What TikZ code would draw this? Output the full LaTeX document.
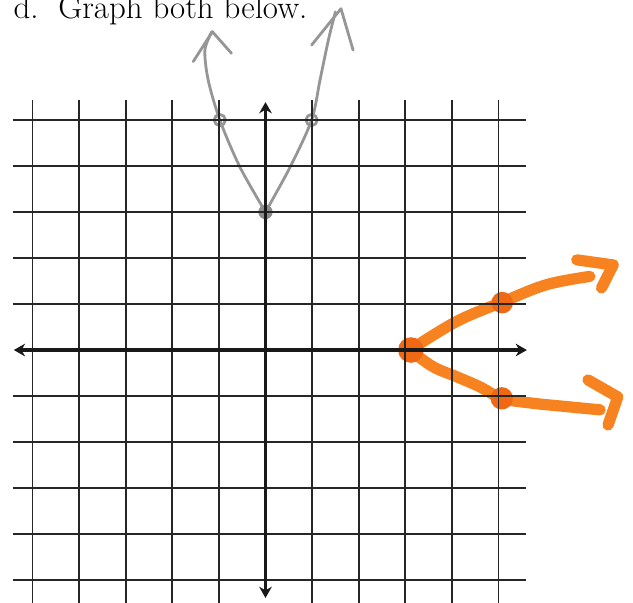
\documentclass[tikz,border=0pt]{standalone}
\usepackage{fontspec}
\usetikzlibrary{arrows.meta}

\begin{document}
\begin{tikzpicture}[
    x = 1.165cm,
    y = 1.15cm,
    gridline/.style = {
        line width=1.3pt,
        color=black!85
    },
    axisline/.style = {
        {Stealth[length=8pt,width=9pt]}-{Stealth[length=8pt,width=9pt]},
        line width=2.6pt,
        color=black!90
    },
    pencil/.style = {
        line width=2pt,
        color={rgb,255:red,150;green,150;blue,150},
        line cap=round,
        line join=round
    },
    marker/.style = {
        line width=8pt,
        color={rgb,255:red,247;green,131;blue,32},
        line cap=round,
        line join=round
    },
    odot/.style = {fill={rgb,255:red,240;green,104;blue,20}},
    gdot/.style = {fill={rgb,255:red,140;green,140;blue,140}}
]

%% Page frame
\useasboundingbox (-5.697,-5.478) rectangle (7.886,7.609);

%% Title
\node[anchor=base west, inner sep=0pt,
      font=\fontsize{23.4}{28}\selectfont]
    (title) at (-5.41,7.2) {d.\hspace{0.6em}Graph both below.};

%% Orange marker: sideways parabola
\draw[marker] plot[smooth, tension=0.6] coordinates
    {(3.1,0) (4.1,0.62) (5.1,1.05) (6.03,1.42) (6.96,1.6)};
\draw[marker] (6.68,1.96) -- (7.46,1.85) -- (7.21,1.35);
\draw[marker] plot[smooth, tension=0.6] coordinates
    {(3.1,0) (3.59,-0.36) (4.1,-0.58) (4.6,-0.8) (5.07,-1.05)
     (5.68,-1.15) (6.46,-1.23) (7.18,-1.3)};
\draw[marker] (6.92,-0.65) -- (7.56,-1.02) -- (7.35,-1.63);
\fill[odot] (3.12,0) circle (0.32cm);
\fill[odot] (5.08,1.03) circle (0.27cm);
\fill[odot] (5.07,-1.05) circle (0.28cm);

%% Gray pencil: upward parabola
\draw[pencil] plot[smooth] coordinates
    {(0,3) (-0.55,3.98) (-0.98,5) (-1.23,5.87) (-1.3,6.52) (-1.15,6.92)};
\draw[pencil] (-1.55,6.27) -- (-1.14,6.92) -- (-0.73,6.45);
\draw[pencil] plot[smooth] coordinates
    {(0,3) (0.53,3.98) (0.99,5) (1.17,5.87) (1.35,6.74) (1.5,7.35)};
\draw[pencil] (0.99,6.63) -- (1.62,7.42) -- (1.88,6.52);
\draw[pencil] (-0.98,5) circle (0.14cm);
\draw[pencil] (0.99,5) circle (0.14cm);
\fill[gdot] (0,3) circle (0.18cm);

%% Grid
\foreach \k in {-5,...,-1,1,2,...,5} {
    \draw[gridline] (\k,-5.6) -- (\k,5.43);
    \draw[gridline] (-5.42,\k) -- (5.59,\k);
}

%% Axes
\coordinate (xleft)  at (-5.40,0);
\coordinate (xright) at (5.61,0);
\coordinate (ytop)   at (0,5.39);
\coordinate (ybot)   at (0,-5.39);
\draw[axisline] (xleft) -- (xright);
\draw[axisline] (ybot)  -- (ytop);

\end{tikzpicture}
\end{document}
